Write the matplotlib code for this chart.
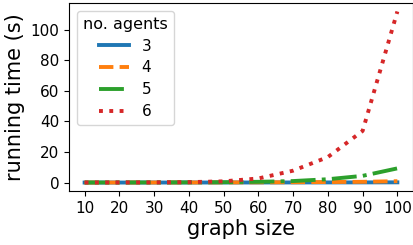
import matplotlib
matplotlib.use("Agg")
import matplotlib.pyplot as plt

graph_size = [10, 20, 30, 40, 50, 60, 70, 80, 90, 100]
agents = ["3", "4", "5", "6"]
time_3 = [0.02, 0.02, 0.03, 0.04, 0.05, 0.06, 0.08, 0.1, 0.12, 0.15]
time_4 = [0.03, 0.04, 0.05, 0.07, 0.1, 0.15, 0.22, 0.35, 0.5, 0.9]
time_5 = [0.05, 0.07, 0.1, 0.15, 0.25, 0.5, 1.0, 2.2, 4.4, 9.3]
time_6 = [0.05, 0.08, 0.12, 0.3, 0.8, 2.7, 7.8, 16.7, 33.8, 112.0]
series = [time_3, time_4, time_5, time_6]
styles = ["-", "--", "-.", ":"]
y_ticks = [0, 20, 40, 60, 80, 100]

fig = plt.figure(figsize=(4.13, 2.45), dpi=100)
ax = fig.add_axes([0.167, 0.22, 0.833, 0.768])
for name, vals, ls in zip(agents, series, styles):
    ax.plot(graph_size, vals, linestyle=ls, linewidth=2.8, label=name)

ax.set_xticks(graph_size)
ax.set_yticks(y_ticks)
ax.tick_params(labelsize=11)
ax.set_xlabel("graph size", fontsize=15, labelpad=2)
ax.set_ylabel("running time (s)", fontsize=15)
ax.legend(title="no. agents", fontsize=11, title_fontsize=11.5, loc="upper left",
          labelspacing=0.45)
fig.savefig("out.png", dpi=100)
